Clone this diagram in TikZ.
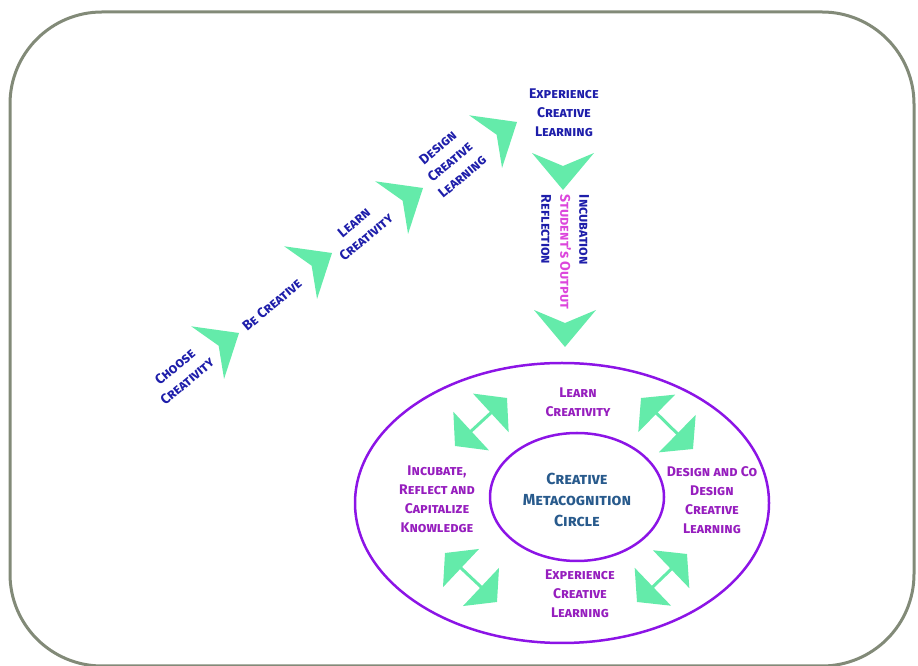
\documentclass[tikz,border=0pt]{standalone}
\usepackage{fontspec}
\setmainfont{Fira Sans}
\usetikzlibrary{arrows.meta}
\definecolor{mint}{RGB}{100,235,170}
\definecolor{navy}{RGB}{30,30,170}
\definecolor{ringtext}{RGB}{150,30,190}
\definecolor{ringline}{RGB}{140,20,230}
\definecolor{outpink}{RGB}{220,70,220}
\definecolor{coretext}{RGB}{40,90,140}
\definecolor{framegray}{RGB}{130,138,120}
\def\chev(#1,#2)(#3){\fill[mint,shift={(#1,#2)},rotate=#3] (0,0) -- (-37,31) -- (-24,0) -- (-37,-31) -- cycle;}
\tikzset{
  lbl/.style={font=\fontsize{14}{19}\selectfont\bfseries\scshape, align=center, inner sep=0pt},
  stairlbl/.style={lbl, text=navy, rotate=40},
  ringlbl/.style={lbl, text=ringtext},
  twoway/.style={color=mint, line width=3pt, {Triangle[length=22pt,width=52pt]}-{Triangle[length=22pt,width=52pt]}}
}

\begin{document}
\begin{tikzpicture}[x=1pt,y=1pt]
		%%%%% START %%%%%
		\useasboundingbox (0,0) rectangle (918,666);
		
		\draw[framegray, line width=3pt, rounded corners=92pt] (10,0) rectangle (914,654);
		
		% staircase
		\chev(239,333)(32);
		\chev(332,413)(32);
		\chev(423,478)(32);
		\chev(517,544)(32);
		\chev(563,476)(-90);
		\chev(565,319)(-90);
		
		\node[stairlbl] (choose) at (181,292) {Choose\\Creativity};
		\node[stairlbl] (becre) at (272,361) {Be Creative};
		\node[stairlbl] (learn) at (360,436) {Learn\\Creativity};
		\node[stairlbl] (design) at (450,504) {Design\\Creative\\Learning};
		\node[lbl, text=navy] (exptop) at (564,553) {Experience\\Creative\\Learning};
		\node[lbl, rotate=-90, align=left] (incub) at (565,414)
			{\textcolor{navy}{Incubation}\\\textcolor{outpink}{Student's Output}\\\textcolor{navy}{Reflection}};
		
		% metacognition ring
		\draw[ringline, line width=2.5pt] (562,163) ellipse (207 and 140);
		\draw[ringline, line width=2.5pt] (577,169) ellipse (87 and 64);
		
		\node[lbl, font=\fontsize{16}{21}\selectfont\bfseries\scshape, text=coretext] (core) at (577,166)
			{Creative\\Metacognition\\Circle};
		\node[ringlbl] (rlearn) at (578,264) {Learn\\Creativity};
		\node[ringlbl] (rdesign) at (712,166) {Design and Co\\Design\\Creative\\Learning};
		\node[ringlbl] (rexp) at (580,72) {Experience\\Creative\\Learning};
		\node[ringlbl] (rincub) at (437,167) {Incubate,\\Reflect and\\Capitalize\\Knowledge};
		
		\coordinate (tlA) at (455,220);
		\coordinate (tlB) at (507,268);
		\coordinate (trA) at (641,268);
		\coordinate (trB) at (693,217);
		\coordinate (blA) at (445,113);
		\coordinate (blB) at (497,64);
		\coordinate (brA) at (637,64);
		\coordinate (brB) at (687,112);
		\draw[twoway] (tlA) -- (tlB);
		\draw[twoway] (trA) -- (trB);
		\draw[twoway] (blA) -- (blB);
		\draw[twoway] (brA) -- (brB);
		
		%%%%% END %%%%%
\end{tikzpicture}
\end{document}
